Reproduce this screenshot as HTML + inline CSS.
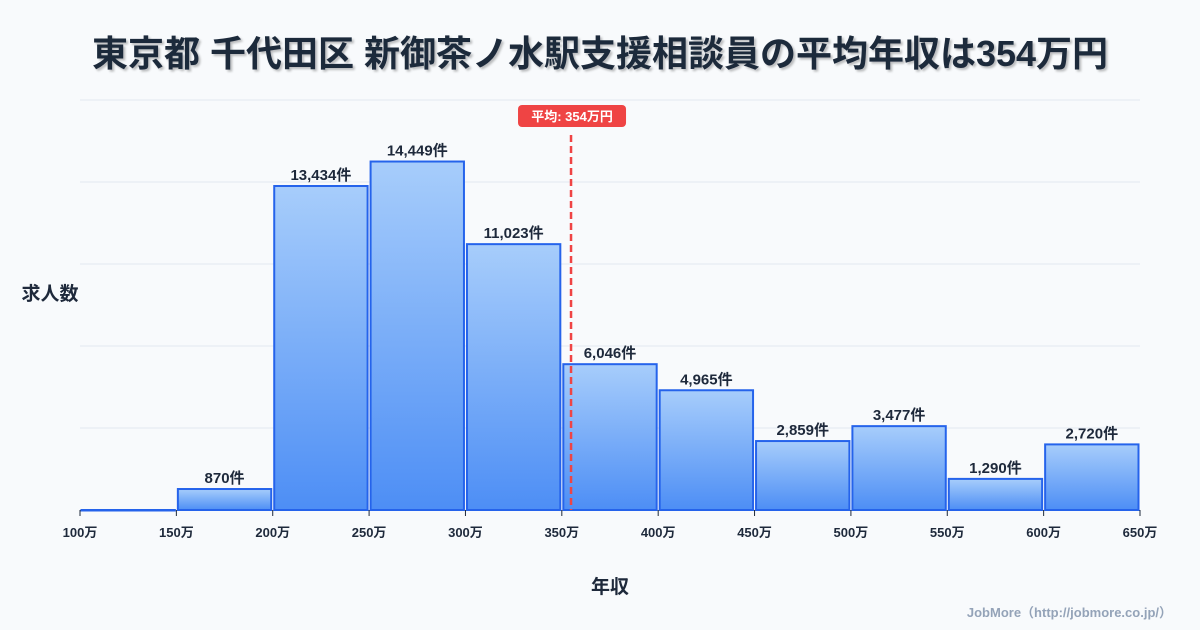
<!DOCTYPE html>
<html><head><meta charset="utf-8"><style>
body{margin:0;background:#f8fafc;}
svg{display:block;font-family:"Liberation Sans","Noto Sans CJK JP",sans-serif;}
</style></head><body>
<svg id="c" width="1200" height="630">
<defs><linearGradient id="g" x1="0" y1="0" x2="0" y2="1"><stop offset="0" stop-color="#a7cdfb"/><stop offset="1" stop-color="#4d8ef5"/></linearGradient>
<filter id="sh"><feDropShadow dx="2" dy="2" stdDeviation="1" flood-color="#000" flood-opacity="0.25"/></filter></defs>
<text x="600" y="66" text-anchor="middle" font-size="36" font-weight="bold" fill="#1e293b" filter="url(#sh)">東京都 千代田区 新御茶ノ水駅支援相談員の平均年収は354万円</text>
<text x="50" y="300" text-anchor="middle" font-size="19" font-weight="bold" fill="#1e293b">求人数</text>
<text x="610" y="593" text-anchor="middle" font-size="19" font-weight="bold" fill="#1e293b">年収</text>
<text x="1172" y="617" text-anchor="end" font-size="13" font-weight="bold" fill="#94a3b8">JobMore（http://jobmore.co.jp/）</text>
<g id="grid"></g><g id="bars"></g><g id="ax"></g><g id="mean"></g>
</svg>
<script>
const binStarts=[100,150,200,250,300,350,400,450,500,550,600];
const counts=[0,870,13434,14449,11023,6046,4965,2859,3477,1290,2720];
const tickLabels=["100万","150万","200万","250万","300万","350万","400万","450万","500万","550万","600万","650万"];
const meanValue=354;
const meanLabel="平均: 354万円";
const NS="http://www.w3.org/2000/svg";
const X0=80,X1=1140,Y0=510,Y1=100,XMIN=100,XMAX=650,YMAX=17000;
const x=v=>X0+(v-XMIN)/(XMAX-XMIN)*(X1-X0);
const y=v=>Y0-v/YMAX*(Y0-Y1);
function mk(t,a,p){const e=document.createElementNS(NS,t);for(const k in a)e.setAttribute(k,a[k]);p.appendChild(e);return e;}
const grid=document.getElementById('grid'),bars=document.getElementById('bars'),ax=document.getElementById('ax'),mean=document.getElementById('mean');
for(let i=0;i<=5;i++){const gy=Y0-i*(Y0-Y1)/5;const l=mk('line',{x1:X0,x2:X1,y1:gy,y2:gy,stroke:'#e2e8f0','stroke-width':1},grid);

}
binStarts.forEach((b,i)=>{const xa=x(b)+1.5,xb=x(b+50)-1.5,yt=y(counts[i]);
const r=mk('rect',{x:xa,y:yt,width:xb-xa,height:Math.max(Y0-yt,0.5),fill:'url(#g)',stroke:'#2563eb','stroke-width':2},bars);


if(counts[i]>0){const t=mk('text',{x:(xa+xb)/2,y:yt-6,'text-anchor':'middle','font-size':15,'font-weight':'bold',fill:'#1e293b'},bars);
t.textContent=counts[i].toLocaleString('en-US')+'件';

}});
tickLabels.forEach((s,i)=>{const v=XMIN+i*50;const tx=x(v);
const tk=mk('line',{x1:tx,x2:tx,y1:Y0,y2:Y0+6,stroke:'#1e293b','stroke-width':1},ax);


const t=mk('text',{x:tx,y:Y0+27,'text-anchor':'middle','font-size':13,'font-weight':'bold',fill:'#1e293b'},ax);t.textContent=s;

});
const mx=x(meanValue)+1.5;
const ml=mk('line',{x1:mx,x2:mx,y1:135,y2:Y0,stroke:'#ef4444','stroke-width':2.5,'stroke-dasharray':'7,4'},mean);


const mb=mk('rect',{x:mx-53,y:105,width:108,height:22,rx:4,fill:'#ef4444'},mean);


const mt=mk('text',{x:mx+1,y:121,'text-anchor':'middle','font-size':13,'font-weight':'bold',fill:'#fff'},mean);mt.textContent=meanLabel;


</script>
</body></html>
